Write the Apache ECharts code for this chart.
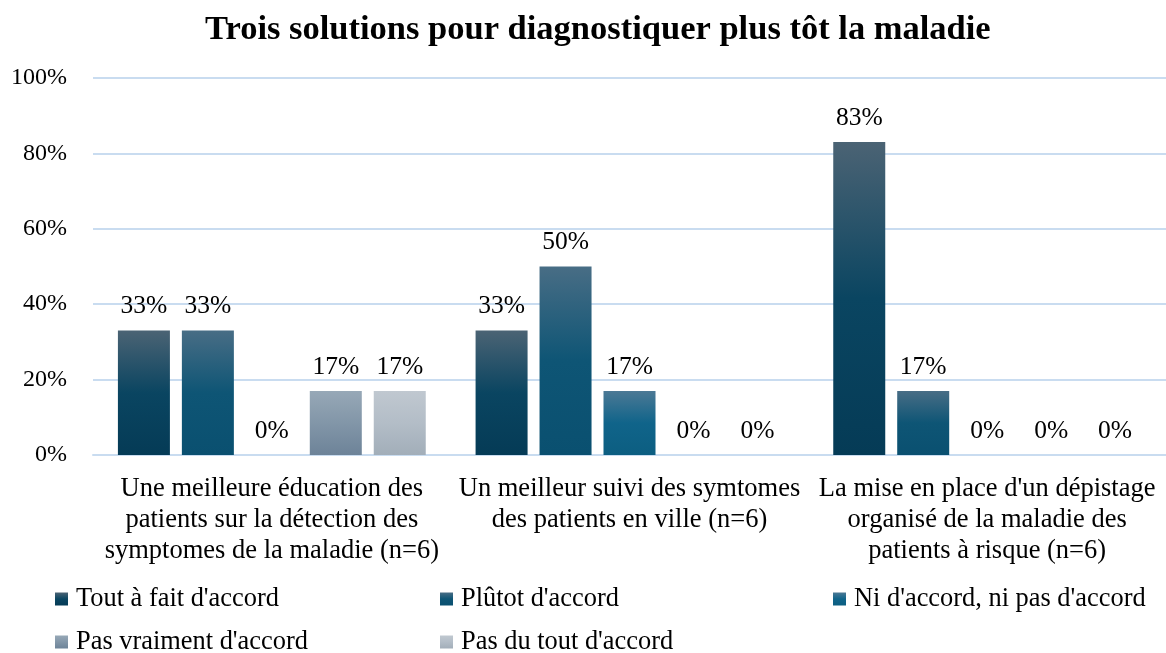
<!DOCTYPE html>
<html>
<head>
<meta charset="utf-8">
<script src="https://cdn.jsdelivr.net/npm/echarts@6/dist/echarts.min.js"></script>
<style>
  html, body { margin: 0; padding: 0; background: #fff; }
  #chart { width: 1166px; height: 653px; }
</style>
</head>
<body>
<div id="chart"></div>
<script>
// data
var categories = [
  "Une meilleure éducation des\npatients sur la détection des\nsymptomes de la maladie (n=6)",
  "Un meilleur suivi des symtomes\ndes patients en ville (n=6)",
  "La mise en place d'un dépistage\norganisé de la maladie des\npatients à risque (n=6)"
];
var seriesNames = [
  "Tout à fait d'accord",
  "Plûtot d'accord",
  "Ni d'accord, ni pas d'accord",
  "Pas vraiment d'accord",
  "Pas du tout d'accord"
];
var toutAFait = [33, 33, 83];
var plutot = [33, 50, 17];
var niNi = [0, 17, 0];
var pasVraiment = [17, 0, 0];
var pasDuTout = [17, 0, 0];
var yTicks = [0, 20, 40, 60, 80, 100];

var values = [toutAFait, plutot, niNi, pasVraiment, pasDuTout];
// gradient colours (top, middle, bottom)
var gradients = [
  ["#4b6374", "#0a4561", "#053b56"],
  ["#486d85", "#0e5575", "#0a5070"],
  ["#4c7995", "#10648a", "#0c5e81"],
  ["#97a8b7", "#8296a8", "#6d8398"],
  ["#c0c8d0", "#b3bdc7", "#a2aeb9"]
];

var FONT = "'Liberation Serif', 'Times New Roman', serif";
var chart = echarts.init(document.getElementById("chart"));

function grad(c) {
  return new echarts.graphic.LinearGradient(0, 0, 0, 1, [
    { offset: 0, color: c[0] },
    { offset: 0.5, color: c[1] },
    { offset: 1, color: c[2] }
  ]);
}

var legendPos = [
  { left: 55, top: 586 },
  { left: 440, top: 586 },
  { left: 833, top: 586 },
  { left: 55, top: 629 },
  { left: 440, top: 629 }
];

chart.setOption({
  animation: false,
  title: {
    text: "Trois solutions pour diagnostiquer plus tôt la maladie",
    left: 200,
    top: 8,
    textStyle: { fontFamily: FONT, fontSize: 34.5, fontWeight: "bold", color: "#000" }
  },
  legend: seriesNames.map(function (n, i) {
    return {
      data: [n],
      left: legendPos[i].left,
      top: legendPos[i].top,
      padding: 0,
      itemWidth: 13,
      itemHeight: 13,
      icon: "rect",
      textStyle: { fontFamily: FONT, fontSize: 26.4, color: "#000", padding: [0, 0, 0, 3] }
    };
  }),
  grid: { left: 93, right: 0, top: 78, bottom: 198, containLabel: false },
  xAxis: {
    type: "category",
    data: categories,
    axisTick: { show: false },
    axisLine: { lineStyle: { color: "#c9dcf0", width: 2 } },
    axisLabel: {
      fontFamily: FONT,
      fontSize: 26.5,
      color: "#000",
      lineHeight: 31,
      margin: 19,
      interval: 0
    }
  },
  yAxis: {
    type: "value",
    min: yTicks[0],
    max: yTicks[yTicks.length - 1],
    interval: 20,
    axisLine: { show: false },
    axisTick: { show: false },
    splitLine: { lineStyle: { color: "#c9dcf0", width: 2 } },
    axisLabel: {
      fontFamily: FONT,
      fontSize: 24,
      color: "#000",
      margin: 26,
      formatter: "{value}%"
    }
  },
  series: seriesNames.map(function (n, i) {
    return {
      name: n,
      type: "bar",
      data: values[i],
      barWidth: 52,
      barGap: "23%",
      itemStyle: { color: grad(gradients[i]) },
      label: {
        show: true,
        position: "top",
        distance: 11,
        fontFamily: FONT,
        fontSize: 25.5,
        color: "#000",
        formatter: "{c}%"
      }
    };
  })
});
</script>
</body>
</html>
